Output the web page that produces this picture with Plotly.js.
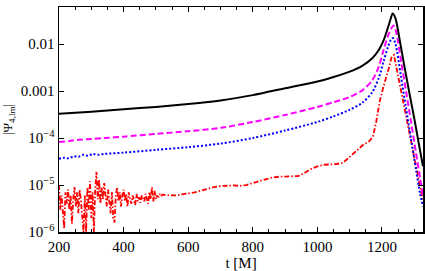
<!DOCTYPE html>
<html>
<head>
<meta charset="utf-8">
<script src="https://cdn.plot.ly/plotly-3.0.1.min.js"></script>
<style>html,body{margin:0;padding:0;background:#fff;}#plot{width:425px;height:271px;}</style>
</head>
<body>
<div id="plot"></div>
<script>
// Black (solid)
const tBlack = [200,300,400,500,600,700,800,900,1000,1050,1100,1140,1170,1190,1205,1218,1226,1233,1242,1255,1270,1285,1300,1315,1327];
const vBlack = [3.3e-4,3.65e-4,4.1e-4,4.6e-4,5.3e-4,6.3e-4,8.2e-4,1.15e-3,1.6e-3,2.0e-3,2.6e-3,3.5e-3,5.0e-3,7.5e-3,0.012,0.022,0.033,0.045,0.035,0.012,3.2e-3,9e-4,2.6e-4,7e-5,2.5e-5];
// Magenta (dashed)
const tMag = [200,230,260,300,340,400,500,600,700,800,900,1000,1050,1100,1140,1170,1190,1205,1218,1228,1236,1244,1260,1275,1290,1305,1318,1327];
const vMag = [8.2e-5,8.6e-5,9.2e-5,9.5e-5,1.0e-4,1.07e-4,1.22e-4,1.4e-4,1.65e-4,2.2e-4,3.1e-4,4.6e-4,5.8e-4,7.5e-4,1.05e-3,1.7e-3,3.3e-3,7.5e-3,0.0145,0.021,0.025,0.018,4e-3,9.5e-4,2.2e-4,5e-5,1.4e-5,6e-6];
// Blue (dotted)
const tBlue = [200,215,230,245,260,275,290,305,320,340,400,500,600,700,800,900,1000,1050,1100,1140,1170,1190,1205,1218,1228,1234,1242,1258,1274,1290,1306,1318,1327];
const vBlue = [3.6e-5,3.8e-5,3.7e-5,4.1e-5,4.0e-5,4.4e-5,4.2e-5,4.6e-5,4.4e-5,4.6e-5,4.9e-5,5.6e-5,6.4e-5,7.6e-5,1.0e-4,1.45e-4,2.2e-4,2.9e-4,4.0e-4,5.7e-4,9.5e-4,1.9e-3,4.3e-3,8.5e-3,0.0125,0.0135,0.01,2.2e-3,4.5e-4,9.5e-5,2e-5,6.5e-6,3.5e-6];
// Red (dash-dot), noisy early part
const tRed = [200,204,208,212,216,220,224,228,232,236,240,244,248,252,256,260,264,268,272,276,280,284,288,292,296,300,304,308,312,316,320,324,328,332,336,340,344,348,352,356,360,364,368,372,376,380,384,388,392,396,400,404,408,412,416,420,424,428,432,436,440,444,448,452,456,460,464,468,472,476,480,484,488,492,496,500,504,508,512,516,520,
  540,560,580,600,620,640,660,680,700,720,740,760,780,800,820,840,860,880,900,920,940,960,980,1000,1020,1040,1060,1080,1100,1120,1140,1160,1172,1182,1194,1204,1214,1222,1230,1237,1245,1260,1275,1290,1305,1318,1327];
const vRed = [1.0e-5,3e-6,6e-6,2.5e-6,1.2e-6,7e-6,4e-6,8e-6,3e-6,6e-6,1.5e-6,5e-6,9e-6,3.5e-6,7e-6,2.5e-6,8e-6,4.5e-6,1.8e-6,1.0e-6,6e-6,1.0e-6,9e-6,3e-6,1.2e-5,2e-6,7e-6,1.0e-6,8e-6,1.9e-5,5e-6,1.3e-5,4e-6,9e-6,5e-6,1.1e-5,6e-6,3.5e-6,8e-6,5e-6,2.5e-6,7e-6,2e-6,1.6e-6,6e-6,9e-6,4.5e-6,7e-6,3.5e-6,6e-6,8e-6,4.5e-6,6.5e-6,3.5e-6,7e-6,5e-6,4e-6,6e-6,5e-6,3.8e-6,6.5e-6,4.5e-6,5.5e-6,4.2e-6,6e-6,5e-6,4.5e-6,6.5e-6,5e-6,4e-6,7e-6,5e-6,9e-6,4.5e-6,7.5e-6,5e-6,6e-6,5.5e-6,6.5e-6,5.8e-6,6.2e-6,
  6.2e-6,6.0e-6,6.3e-6,6.6e-6,7.0e-6,7.6e-6,8.3e-6,9.0e-6,9.5e-6,9.8e-6,9.8e-6,9.6e-6,1.0e-5,1.1e-5,1.2e-5,1.3e-5,1.45e-5,1.5e-5,1.5e-5,1.5e-5,1.55e-5,1.8e-5,2.2e-5,2.5e-5,2.7e-5,2.75e-5,2.8e-5,3.0e-5,4.0e-5,5.5e-5,7e-5,8.5e-5,1.07e-4,2.2e-4,6.5e-4,1.2e-3,2.0e-3,3.2e-3,5.4e-3,5.9e-3,3.1e-3,9.5e-4,2.8e-4,8.5e-5,2.5e-5,9e-6,4.5e-6];

const yTickVals = [1e-6,1e-5,1e-4,1e-3,1e-2];
const yTickText = ['10<sup>\u22126</sup>','10<sup>\u22125</sup>','10<sup>\u22124</sup>','0.001','0.01'];
const xTickVals = [200,400,600,800,1000,1200];

const traces = [
  {x:tRed, y:vRed, mode:'lines', line:{color:'#ff0000', width:1.8, dash:'5px,2px,1.5px,2px'}},
  {x:tBlue, y:vBlue, mode:'lines', line:{color:'#0000ff', width:2, dash:'2px,2px', shape:'spline', smoothing:0.8}},
  {x:tMag, y:vMag, mode:'lines', line:{color:'#ff00ff', width:2, dash:'6px,3px', shape:'spline', smoothing:0.8}},
  {x:tBlack, y:vBlack, mode:'lines', line:{color:'#000000', width:2, shape:'spline', smoothing:0.8}}
];

const fam = 'Liberation Serif, Times New Roman, serif';
const font = {family:fam, size:15, color:'#000'};
const layout = {
  width:425, height:271,
  margin:{l:59, r:2, t:7, b:39},
  paper_bgcolor:'#fff', plot_bgcolor:'#fff',
  showlegend:false,
  font:font,
  xaxis:{
    range:[200,1327], tickvals:xTickVals, ticks:'inside', ticklen:5, tickwidth:1, tickcolor:'#000',
    showline:true, linecolor:'#000', linewidth:1.5, mirror:'allticks', showgrid:false, zeroline:false,
    minor:{dtick:50, tick0:200, ticks:'inside', ticklen:3, tickcolor:'#000', showgrid:false},
    title:{text:'t [M]', font:font, standoff:4}, tickfont:font
  },
  yaxis:{
    type:'log', range:[-6,-1.21], tickvals:yTickVals, ticktext:yTickText, ticks:'inside', ticklen:5, tickwidth:1, tickcolor:'#000',
    showline:true, linecolor:'#000', linewidth:1.5, mirror:'allticks', showgrid:false, zeroline:false,
    title:{text:'|\u03a8<sub>4,lm</sub>|', font:{family:fam, size:13, color:'#000'}, standoff:6}, tickfont:font
  }
};
Plotly.newPlot('plot', traces, layout, {staticPlot:true, displayModeBar:false});
</script>
</body>
</html>
